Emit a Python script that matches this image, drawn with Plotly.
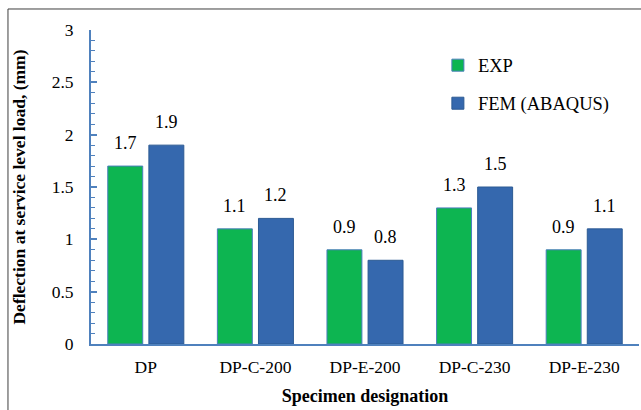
import plotly.graph_objects as go

categories = ["DP", "DP-C-200", "DP-E-200", "DP-C-230", "DP-E-230"]
exp_values = [1.7, 1.1, 0.9, 1.3, 0.9]
fem_values = [1.9, 1.2, 0.8, 1.5, 1.1]
y_ticks = [0, 0.5, 1, 1.5, 2, 2.5, 3]
y_tick_labels = ["0", "0.5", "1", "1.5", "2", "2.5", "3"]

FONT = "Times New Roman"
AXIS_BLUE = "#4F81BD"

fig = go.Figure()
fig.add_trace(go.Bar(
    x=categories, y=exp_values, name="EXP",
    marker=dict(color="#0DB551", line=dict(color="#4A7EBB", width=1)),
    legendgroup="a",
))
fig.add_trace(go.Bar(
    x=categories, y=fem_values, name="FEM (ABAQUS)",
    marker=dict(color="#3568AE", line=dict(color="#2C5A93", width=1)),
    legendgroup="b",
))

annotations = []
for series, shift in ((exp_values, -20.5), (fem_values, 20.5)):
    for cat, v in zip(categories, series):
        annotations.append(dict(
            x=cat, y=v, xref="x", yref="y", text=f"{v:.1f}", showarrow=False,
            xshift=shift, yshift=11, yanchor="bottom",
            font=dict(family=FONT, size=18, color="black"),
        ))

fig.update_layout(
    width=641, height=410,
    margin=dict(l=91, r=2, t=30, b=66),
    paper_bgcolor="white", plot_bgcolor="white",
    barmode="group", bargap=0.25, bargroupgap=0.15,
    font=dict(family=FONT, size=16, color="black"),
    showlegend=True,
    legend=dict(x=0.633, y=0.947, xanchor="left", yanchor="top",
                font=dict(family=FONT, size=18.5, color="black"),
                bgcolor="rgba(0,0,0,0)", tracegroupgap=11, itemwidth=30),
    annotations=annotations,
    xaxis=dict(
        showline=True, linecolor=AXIS_BLUE, linewidth=2,
        ticks="", showgrid=False,
        tickfont=dict(family=FONT, size=17.5, color="black"),
        ticklabelstandoff=6,
        title=dict(text="<b>Specimen designation</b>",
                   font=dict(family=FONT, size=18, color="black"), standoff=13),
    ),
    yaxis=dict(
        range=[0, 3], tickvals=y_ticks, ticktext=y_tick_labels,
        showline=True, linecolor=AXIS_BLUE, linewidth=2,
        ticks="inside", ticklen=6, tickcolor=AXIS_BLUE, tickwidth=2,
        minor=dict(dtick=0.1, ticks="inside", ticklen=4, tickcolor=AXIS_BLUE, tickwidth=1),
        showgrid=False, zeroline=False,
        tickfont=dict(family=FONT, size=17.5, color="black"),
        ticklabelstandoff=12,
        title=dict(text="<b>Deflection at service level load, (mm)</b>",
                   font=dict(family=FONT, size=17.5, color="black"), standoff=22),
    ),
    shapes=[dict(type="rect", xref="paper", yref="paper",
                 x0=-0.1515, x1=1.05, y0=-0.4, y1=1.0669,
                 line=dict(color="#3F3F3F", width=1), layer="above")],
)

fig.write_html("out.html")
